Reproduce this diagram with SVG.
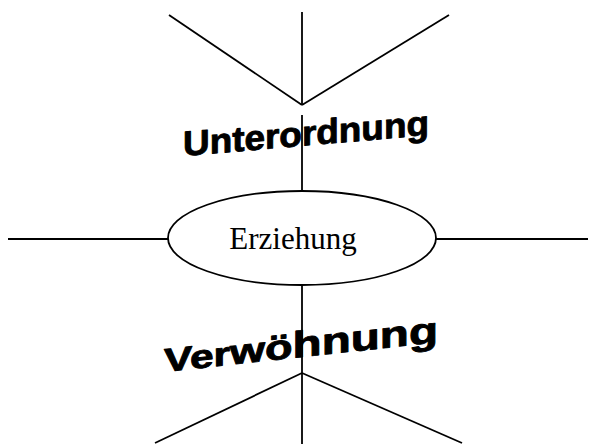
<svg xmlns="http://www.w3.org/2000/svg" width="601" height="445" viewBox="0 0 601 445">
<style>
.ln{stroke:#000;stroke-width:1.8;fill:none;stroke-linecap:butt}
.wa{font-family:"Liberation Sans",Arial,sans-serif;font-weight:bold;fill:#000;stroke:#000;stroke-width:0.9;stroke-linejoin:round}
.lbl{font-family:"Liberation Serif","Times New Roman",serif;font-size:31px;fill:#000}
</style>
<rect width="601" height="445" fill="#fff"/>
<g id="unterordnung">
<text class="wa" transform="translate(183,156) skewY(-4.9)" font-size="35" textLength="246" lengthAdjust="spacingAndGlyphs">Unterordnung</text>
</g>
<g id="verwoehnung">
<text class="wa" transform="translate(164,372) skewY(-6.2)" textLength="274" lengthAdjust="spacingAndGlyphs"><tspan font-size="33">Ver</tspan><tspan font-size="35">wö</tspan><tspan font-size="37">hnung</tspan></text>
</g>
<g id="erziehung">
<ellipse cx="302" cy="238" rx="134" ry="47" class="ln" fill="#fff"/>
<text class="lbl" x="293" y="249" text-anchor="middle">Erziehung</text>
</g>
<g id="connectors">
<line class="ln" x1="169" y1="15" x2="302" y2="105"/>
<line class="ln" x1="449" y1="15" x2="302" y2="105"/>
<line class="ln" x1="302" y1="12" x2="302" y2="105"/>
<line class="ln" x1="302" y1="115" x2="302" y2="191"/>
<line class="ln" x1="8" y1="239" x2="168" y2="239"/>
<line class="ln" x1="436" y1="239" x2="588" y2="239"/>
<line class="ln" x1="302" y1="285" x2="302" y2="444"/>
<line class="ln" x1="302" y1="373" x2="155" y2="443"/>
<line class="ln" x1="302" y1="373" x2="462" y2="443"/>
</g>
</svg>
